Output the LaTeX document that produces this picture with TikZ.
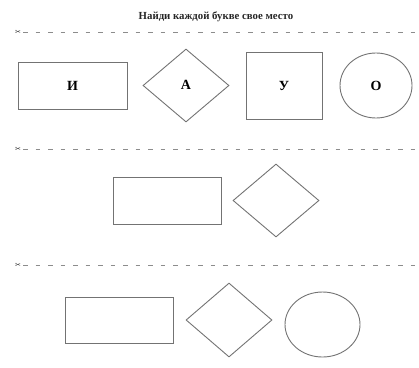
\documentclass[tikz,border=0pt]{standalone}
\usepackage{fontspec}
\setmainfont{Liberation Serif}
\newfontfamily\symfont{DejaVu Sans}
\usetikzlibrary{shapes.geometric}
\begin{document}
\begin{tikzpicture}[x=1pt,y=-1pt,
  shp/.style={draw=black!55,line width=0.9pt,inner sep=0pt,font=\fontsize{14}{16}\selectfont\bfseries},
  rectbox/.style={shp,rectangle},
  diabox/.style={shp,diamond},
  ellbox/.style={shp,ellipse},
  cutline/.style={draw=black!45,line width=1pt,dash pattern=on 4.5pt off 8pt},
  scis/.style={font=\symfont\fontsize{7}{7}\selectfont,text=black!80,inner sep=0pt}]
\useasboundingbox (0,0) rectangle (419,367);
\node[font=\fontsize{10.8}{12}\selectfont\bfseries,text=black!85] (title) at (216,17) {Найди каждой букве свое место};
% cut lines
\foreach \yy/\nm in {32/a,149/b,265/c}{
  \node[scis] (s\nm) at (18,\yy) {✂};
  \coordinate (e\nm) at (419,\yy);
  \draw[cutline] (s\nm.east) ++(2,0) -- (e\nm);
}
% row 1
\node[rectbox,minimum width=109pt,minimum height=47pt] (r1) at (72.5,85.5) {И};
\node[diabox,minimum width=86pt,minimum height=73pt] (d1) at (186,85.5) {\raisebox{2pt}{А}};
\node[rectbox,minimum width=76pt,minimum height=67pt] (q1) at (284,85.5) {У};
\node[ellbox,minimum width=72pt,minimum height=65pt] (o1) at (376,85.5) {О};
% row 2
\node[rectbox,minimum width=108pt,minimum height=47pt] (r2) at (167,200.5) {};
\node[diabox,minimum width=86pt,minimum height=73pt] (d2) at (276,200.5) {};
% row 3
\node[rectbox,minimum width=108pt,minimum height=46pt] (r3) at (119,320) {};
\node[diabox,minimum width=86pt,minimum height=74pt] (d3) at (229,320) {};
\node[ellbox,minimum width=75pt,minimum height=65pt] (o3) at (322.5,324.5) {};
\end{tikzpicture}
\end{document}
